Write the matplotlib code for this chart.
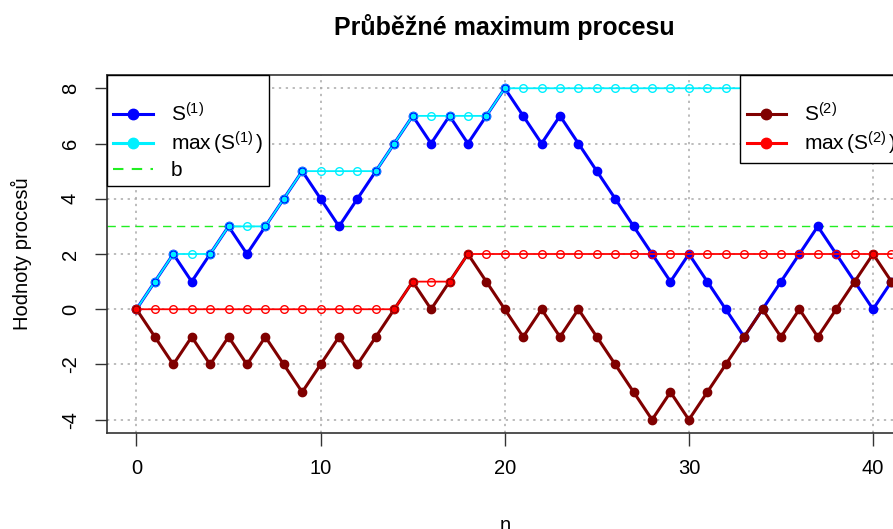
import numpy as np
import matplotlib
matplotlib.use('Agg')
import matplotlib.pyplot as plt
from matplotlib.lines import Line2D

# Data
s1 = [0, 1, 2, 1, 2, 3, 2, 3, 4, 5, 4, 3, 4, 5, 6, 7, 6, 7, 6, 7,
      8, 7, 6, 7, 6, 5, 4, 3, 2, 1, 2, 1, 0, -1, 0, 1, 2, 3, 2, 1, 0, 1]
max1 = [0, 1, 2, 2, 2, 3, 3, 3, 4, 5, 5, 5, 5, 5, 6, 7, 7, 7, 7, 7,
        8, 8, 8, 8, 8, 8, 8, 8, 8, 8, 8, 8, 8, 8, 8, 8, 8, 8, 8, 8, 8, 8]
s2 = [0, -1, -2, -1, -2, -1, -2, -1, -2, -3, -2, -1, -2, -1, 0, 1, 0, 1, 2, 1,
      0, -1, 0, -1, 0, -1, -2, -3, -4, -3, -4, -3, -2, -1, 0, -1, 0, -1, 0, 1, 2, 1]
max2 = [0, 0, 0, 0, 0, 0, 0, 0, 0, 0, 0, 0, 0, 0, 0, 1, 1, 1, 2, 2,
        2, 2, 2, 2, 2, 2, 2, 2, 2, 2, 2, 2, 2, 2, 2, 2, 2, 2, 2, 2, 2, 2]
b = 3
x_ticks = [0, 10, 20, 30, 40]
y_ticks = [-4, -2, 0, 2, 4, 6, 8]

plt.rcParams['font.family'] = ['Liberation Sans', 'DejaVu Sans']
plt.rcParams['mathtext.fontset'] = 'custom'
plt.rcParams['mathtext.rm'] = 'Liberation Sans'
plt.rcParams['mathtext.it'] = 'Liberation Sans'

FS = 14.5

W, H = 893, 529
fig = plt.figure(figsize=(W / 100, H / 100), dpi=100)
# plot region goes past the right edge, as in the cropped original
left, right, top, bottom = 107, 902.5, 75, 433
ax = fig.add_axes([left / W, 1 - bottom / H, (right - left) / W, (bottom - top) / H])

n = np.arange(len(s1))
s1 = np.array(s1); s2 = np.array(s2)
max1 = np.array(max1); max2 = np.array(max2)

BLUE = '#0000ff'
CYAN = '#00f0ff'
DARKRED = '#800000'
RED = '#ff0000'
GREEN = '#22ee22'

for xv in x_ticks:
    ax.axvline(xv, color='#aaaaaa', lw=1.1, ls=(0, (1.5, 3)), zorder=0)
for yv in y_ticks:
    ax.axhline(yv, color='#aaaaaa', lw=1.1, ls=(0, (1.5, 3)), zorder=0)

ax.axhline(b, color=GREEN, lw=1, ls=(0, (6, 4)), zorder=1)

# process 1
ax.plot(n, s1, color=BLUE, lw=2.2, marker='o', ms=6, mfc=BLUE, mec=BLUE, zorder=2)
ax.plot(n, max1, color=CYAN, lw=1.3, marker='o', ms=5.5, mfc='none', mec=CYAN, mew=1, zorder=3)
hit1 = s1 == max1
ax.plot(n[hit1], max1[hit1], ls='none', marker='o', ms=5, mfc=CYAN, mec=BLUE, mew=0.8, zorder=4)

# process 2
ax.plot(n, s2, color=DARKRED, lw=2.2, marker='o', ms=6, mfc=DARKRED, mec=DARKRED, zorder=5)
ax.plot(n, max2, color=RED, lw=1.3, marker='o', ms=5.5, mfc='none', mec=RED, mew=1, zorder=6)
hit2 = s2 == max2
ax.plot(n[hit2], max2[hit2], ls='none', marker='o', ms=5, mfc=RED, mec=DARKRED, mew=0.8, zorder=7)

ax.set_xlim(-1.6, 41.6)
ax.set_ylim(-4.48, 8.48)
ax.set_xticks(x_ticks)
ax.set_yticks(y_ticks)
ax.set_yticklabels([str(v) for v in y_ticks], rotation=90, va='center')
ax.tick_params(axis='both', labelsize=FS, length=9, width=1, color='#333333', direction='out')
ax.tick_params(axis='x', pad=10)
ax.tick_params(axis='y', pad=10.5)
for sp in ax.spines.values():
    sp.set_color('#333333')
    sp.set_linewidth(1.2)

ax.set_title('Průběžné maximum procesu', fontsize=18, fontweight='bold', pad=29)
ax.set_xlabel('n', fontsize=FS, labelpad=27)
ax.set_ylabel('Hodnoty procesů', fontsize=FS)
ax.yaxis.set_label_coords((32 - left) / (right - left), 0.5)

leg_kw = dict(borderaxespad=0, fontsize=15, frameon=True, fancybox=False, framealpha=1,
              edgecolor='black', handlelength=1.9, handletextpad=0.85,
              labelspacing=0.2, borderpad=0.3, title=' ', title_fontsize=14)

leg1_handles = [
    Line2D([], [], color=BLUE, lw=2.2, marker='o', ms=7.5),
    Line2D([], [], color=CYAN, lw=2.2, marker='o', ms=7.5),
    Line2D([], [], color=GREEN, lw=1.5, ls=(0, (5, 4))),
]
leg1 = ax.legend(leg1_handles,
                 [r'$\mathrm{S}^{(1)}$', r'$\mathrm{max}\,(\mathrm{S}^{(1)}\,)$', 'b'],
                 loc='upper left', bbox_to_anchor=(0, 1), **leg_kw)
leg1.get_frame().set_linewidth(1)
ax.add_artist(leg1)

leg2_handles = [
    Line2D([], [], color=DARKRED, lw=2.2, marker='o', ms=7.5),
    Line2D([], [], color=RED, lw=2.2, marker='o', ms=7.5),
]
leg2 = ax.legend(leg2_handles,
                 [r'$\mathrm{S}^{(2)}$', r'$\mathrm{max}\,(\mathrm{S}^{(2)}\,)$'],
                 loc='upper right', bbox_to_anchor=(1, 1), **leg_kw)
leg2.get_frame().set_linewidth(1)
for lg in (leg1, leg2):
    lg.set_zorder(10)

fig.savefig('out.png', dpi=100)
